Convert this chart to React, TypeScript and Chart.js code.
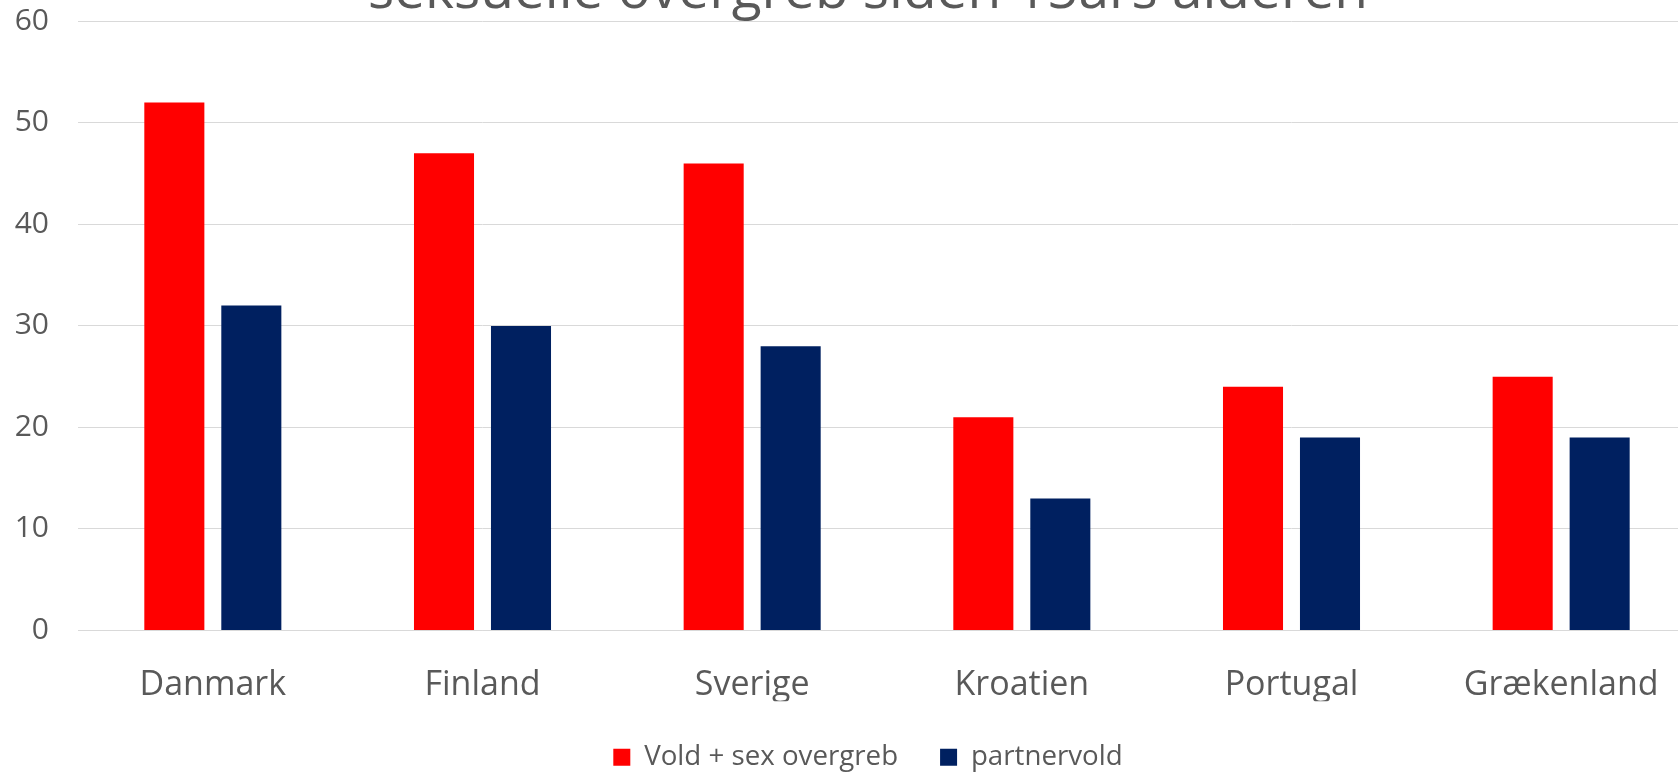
import React, { useEffect, useRef } from "react";
import { Chart, registerables } from "chart.js";

Chart.register(...registerables);

const categories = ["Danmark", "Finland", "Sverige", "Kroatien", "Portugal", "Grækenland"];
const voldSexValues = [52, 47, 46, 21, 24, 25];
const partnervoldValues = [32, 30, 28, 13, 19, 19];
const seriesLabels = ["Vold + sex overgreb", "partnervold"];
const titleText = "seksuelle overgreb siden 15års alderen";
const yMin = 0;
const yMax = 60;
const yStep = 10;

const FONT = "'Open Sans', sans-serif";
const TEXT = "#595959";

export default function App() {
  const ref = useRef<HTMLCanvasElement>(null);
  useEffect(() => {
    document.body.style.margin = "0";
    const chart = new Chart(ref.current!, {
      type: "bar",
      data: {
        labels: categories,
        datasets: [
          {
            label: seriesLabels[0],
            data: voldSexValues,
            backgroundColor: "#FF0000",
            borderWidth: 0,
            categoryPercentage: 0.571,
            barPercentage: 0.78,
          },
          {
            label: seriesLabels[1],
            data: partnervoldValues,
            backgroundColor: "#002060",
            borderWidth: 0,
            categoryPercentage: 0.571,
            barPercentage: 0.78,
          },
        ],
      },
      options: {
        responsive: false,
        devicePixelRatio: 1,
        animation: false,
        layout: { padding: 0 },
        scales: {
          y: {
            min: yMin,
            max: yMax,
            ticks: {
              stepSize: yStep,
              color: TEXT,
              font: { family: FONT, size: 30 },
              padding: 29,
            },
            grid: { color: "#d9d9d9", lineWidth: 1, drawTicks: false },
            border: { display: false },
            afterFit: (s: any) => {
              s.width = 78;
            },
          },
          yRightSpace: {
            type: "linear",
            position: "right",
            display: true,
            min: yMin,
            max: yMax,
            grid: { display: false, drawOnChartArea: false, drawTicks: false },
            ticks: { display: false },
            border: { display: false },
            afterFit: (s: any) => {
              s.width = 40;
            },
          },
          x: {
            grid: { display: false, drawTicks: false },
            border: { display: true, color: "#d9d9d9", width: 1 },
            ticks: {
              color: TEXT,
              font: { family: FONT, size: 34, lineHeight: 1.2 },
              padding: 34.6,
            },
            afterFit: (s: any) => {
              s.height = 70.9;
            },
          },
        },
        plugins: {
          title: {
            display: true,
            text: titleText,
            color: TEXT,
            font: { family: FONT, size: 55, weight: "normal", lineHeight: 1 },
            padding: { top: 4.5, bottom: 1.9 },
          },
          legend: {
            position: "bottom",
            labels: {
              boxWidth: 17,
              boxHeight: 17,
              padding: 42,
              color: TEXT,
              font: { family: FONT, size: 27.7 },
            },
          },
          tooltip: { enabled: false },
        },
      },
    });
    return () => chart.destroy();
  }, []);
  return (
    <div
      style={{
        position: "relative",
        width: 1678,
        height: 774,
        overflow: "hidden",
        background: "#fff",
      }}
    >
      <canvas
        ref={ref}
        width={1736}
        height={821}
        style={{ position: "absolute", left: 0, top: -40, width: 1736, height: 821 }}
      />
    </div>
  );
}
